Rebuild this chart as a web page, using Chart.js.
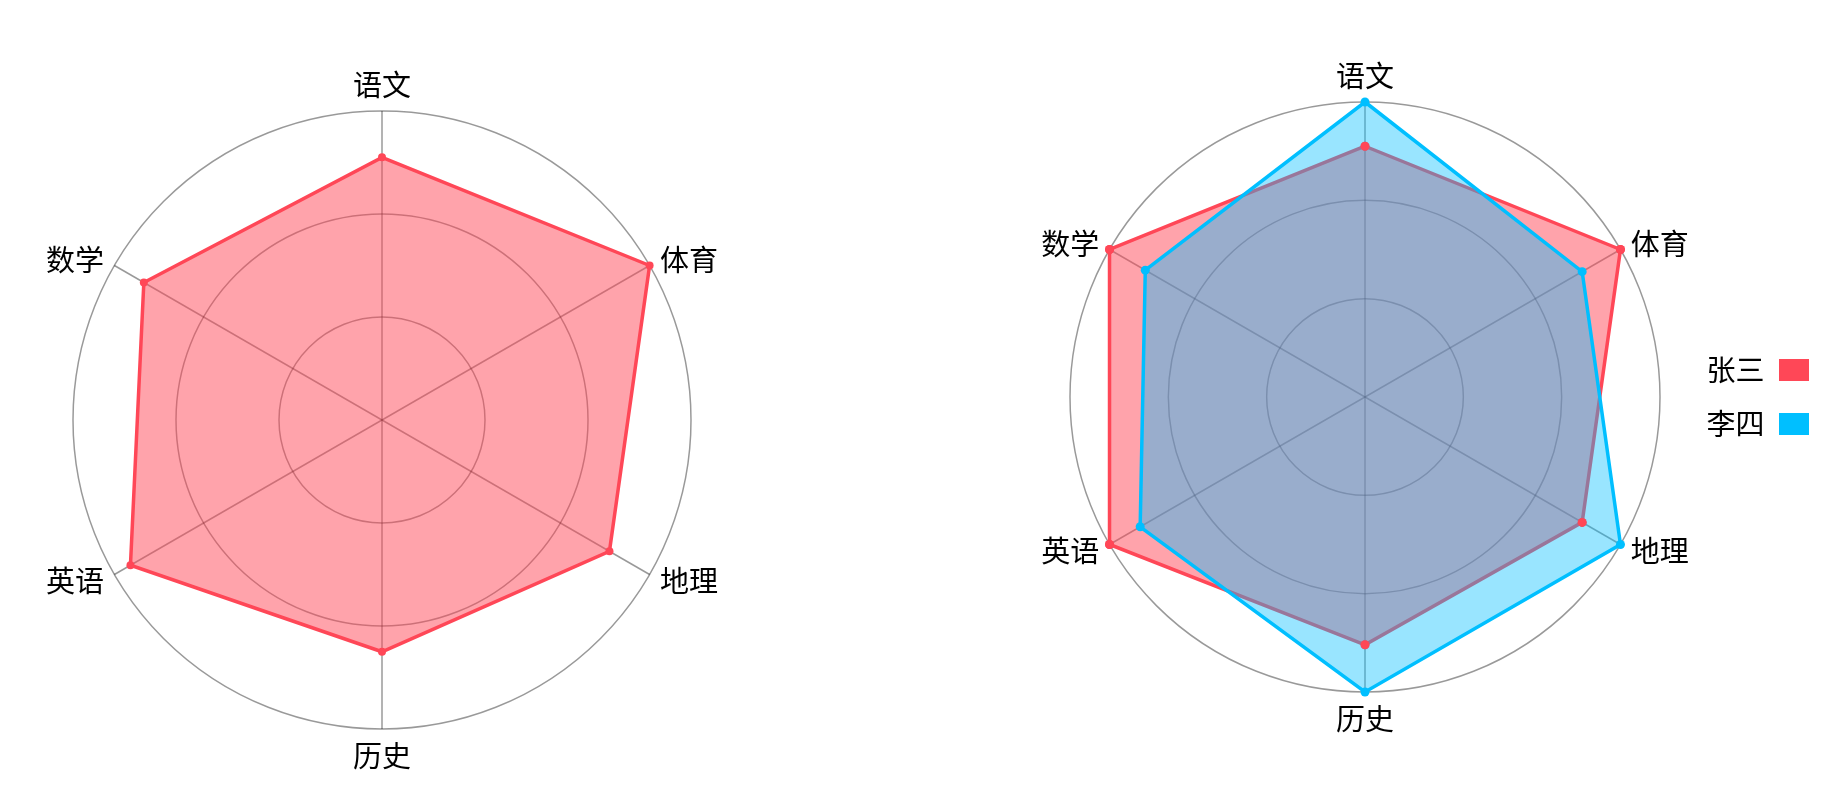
<!DOCTYPE html>
<html lang="zh">
<head>
<meta charset="utf-8">
<title>成绩雷达图</title>
<script src="https://cdn.jsdelivr.net/npm/chart.js@4.4.1/dist/chart.umd.min.js"></script>
<style>
  html, body { margin: 0; padding: 0; background: #fff; }
  body { width: 1844px; height: 802px; position: relative; overflow: hidden; }
  canvas { position: absolute; top: 0; }
  #chart-left  { left: 0; }
  #chart-right { left: 960px; }
</style>
</head>
<body>
<canvas id="chart-left" width="800" height="802" style="width:800px;height:802px"></canvas>
<canvas id="chart-right" width="884" height="802" style="width:884px;height:802px"></canvas>
<script>
// ─── Data ─────────────────────────────────────────────────────────────────────

const subjects = ["语文", "体育", "地理", "历史", "英语", "数学"];
const scaleTicks = [0, 100];          // min / max of the radial axis, 3 rings

const zhangLeft  = [85, 100, 85, 75, 94, 89];
const zhangRight = [85, 100, 85, 84, 100, 100];
const liRight    = [100, 85, 100, 100, 88, 86];

const seriesNames = ["张三", "李四"];

// ─── Styles ───────────────────────────────────────────────────────────────────

const RED  = "rgb(255, 71, 87)";
const BLUE = "rgb(0, 191, 255)";
const FONT = '"Noto Sans CJK SC", "Noto Sans", sans-serif';
const LABEL_SIZE = 29;
const LABEL_GAP = 12;
const GRID = "rgba(0, 0, 0, 0.4)";

Chart.defaults.font.family = FONT;
Chart.defaults.color = "#000";

// axis names drawn around the outer ring, vertically centred like the original
const axisLabels = {
  id: "axisLabels",
  afterDraw(chart) {
    const scale = chart.scales.r;
    const ctx = chart.ctx;
    ctx.save();
    ctx.font = `${LABEL_SIZE}px ${FONT}`;
    ctx.fillStyle = "#000";
    ctx.textBaseline = "middle";
    chart.data.labels.forEach((label, i) => {
      const pos = scale.getPointPosition(i, scale.drawingArea + LABEL_GAP);
      let deg = Math.round((pos.angle + Math.PI / 2) * 180 / Math.PI) % 360;
      if (deg < 0) deg += 360;
      let y = pos.y;
      if (deg === 0) { ctx.textAlign = "center"; y -= LABEL_SIZE / 2; }
      else if (deg === 180) { ctx.textAlign = "center"; y += LABEL_SIZE / 2; }
      else ctx.textAlign = deg < 180 ? "left" : "right";
      ctx.fillText(label, pos.x, y);
    });
    ctx.restore();
  },
};

// redraw markers of flagged series so they sit above later fills
const pointsOnTop = {
  id: "pointsOnTop",
  afterDatasetsDraw(chart) {
    chart.data.datasets.forEach((ds, i) => {
      if (!ds.pointsOnTop) return;
      chart.getDatasetMeta(i).data.forEach((pt) => pt.draw(chart.ctx, chart.chartArea));
    });
  },
};

function series(label, data, color, alpha, extra) {
  return Object.assign({
    label,
    data,
    borderColor: color,
    backgroundColor: color.replace("rgb(", "rgba(").replace(")", `, ${alpha})`),
    borderWidth: 3.5,
    pointBackgroundColor: color,
    pointBorderColor: color,
    pointBorderWidth: 0,
    pointRadius: 4.5,
    fill: true,
    clip: false,
  }, extra || {});
}

function radarOptions(padding, legend) {
  return {
    responsive: false,
    animation: false,
    layout: { padding },
    plugins: { legend, tooltip: { enabled: false } },
    scales: {
      r: {
        min: scaleTicks[0],
        max: scaleTicks[1],
        ticks: { display: false, count: 4 },
        pointLabels: { display: false },
        grid: { color: GRID, lineWidth: 1.5, circular: true },
        angleLines: { color: GRID, lineWidth: 1.5 },
      },
    },
  };
}

// ─── Left: single series ──────────────────────────────────────────────────────

new Chart(document.getElementById("chart-left"), {
  type: "radar",
  data: {
    labels: subjects,
    datasets: [series(seriesNames[0], zhangLeft, RED, 0.5, { pointRadius: 4 })],
  },
  options: radarOptions({ left: 73, right: 109, top: 111, bottom: 73 }, { display: false }),
  plugins: [axisLabels],
});

// ─── Right: two series with legend ────────────────────────────────────────────

new Chart(document.getElementById("chart-right"), {
  type: "radar",
  data: {
    labels: subjects,
    datasets: [
      series(seriesNames[0], zhangRight, RED, 0.5, { order: 2, pointsOnTop: true }),
      series(seriesNames[1], liRight, BLUE, 0.4, { order: 1 }),
    ],
  },
  options: radarOptions({ left: 75, right: 10, top: 102, bottom: 110 }, {
    display: true,
    position: "right",
    rtl: true,
    labels: {
      font: { size: 29, family: FONT },
      color: "#000",
      boxWidth: 30,
      boxHeight: 22,
      padding: 25,
      generateLabels: (chart) => chart.data.datasets.map((ds, i) => ({
        text: ds.label,
        fillStyle: ds.borderColor,
        strokeStyle: ds.borderColor,
        lineWidth: 0,
        hidden: false,
        datasetIndex: i,
      })),
    },
  }),
  plugins: [axisLabels, pointsOnTop],
});
</script>
</body>
</html>
